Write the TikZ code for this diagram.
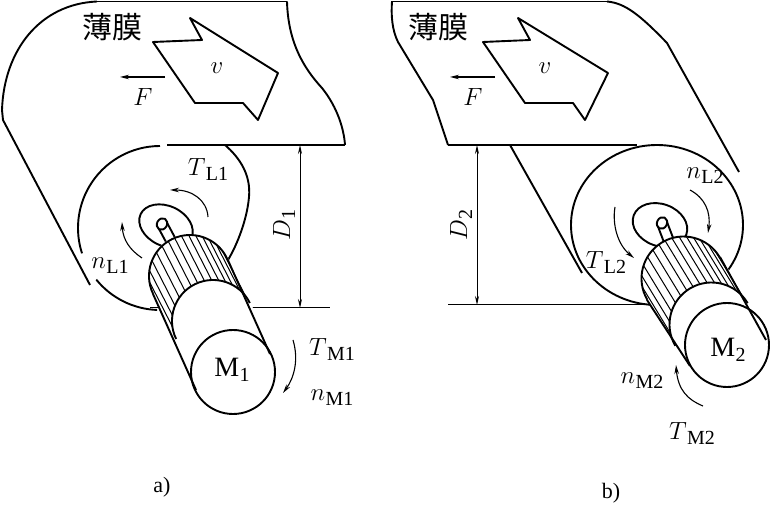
\documentclass[tikz,border=0pt]{standalone}
\usepackage{fontspec}
\setmainfont{Liberation Serif}
\newfontfamily\cjk{Noto Sans CJK SC}
\usetikzlibrary{arrows.meta,calc}
\newcommand{\lbl}[2]{$#1$\kern0.5pt\raisebox{-5pt}{\fontsize{20}{22}\selectfont #2}}
\begin{document}
\begin{tikzpicture}[x=1pt,y=-1pt,
  outl/.style={line width=1.9pt,line join=round},
  thin/.style={line width=1pt},
  rot/.style={line width=1.1pt,-{Stealth[length=9pt,width=4.5pt]}},
  dim/.style={thin,{Stealth[length=9pt,width=4pt]}-{Stealth[length=9pt,width=4pt]}},
  lab/.style={inner sep=0pt,font=\fontsize{25}{26}\selectfont},
  mlab/.style={inner sep=0pt,font=\fontsize{28}{30}\selectfont},
  cjkl/.style={inner sep=0pt,font=\cjk\fontsize{30}{32}\selectfont}]
\useasboundingbox (0,0) rectangle (772,510);
% ================= LEFT (a) =================
\draw[outl] (345,145) -- (167,145);
\draw[outl] (97,1.5) -- (287,1.5);
\draw[outl] (287,1.5) .. controls (288,35) and (298,62) .. (322,88) .. controls (338,108) and (344,130) .. (345,145);
\draw[outl] (97,1.5) .. controls (40,4) and (4,50) .. (2,110) -- (3,120) -- (90,285);
\draw[outl] (160,228) ++(-90:82) arc[start angle=-90,end angle=-198,radius=82];
\draw[outl] (160,228) ++(141:82) arc[start angle=141,end angle=92,radius=82];
\draw[outl] (225,145) .. controls (240,158) and (251,175) .. (249,197) .. controls (247,220) and (237,245) .. (228,260);
\draw[thin] (150,308) -- (330,308);
\draw[outl] (166,226) ellipse[x radius=28,y radius=20,rotate=-25];
\draw[outl] (157.6,226.4) -- (185.6,278.4);
\draw[outl] (166.4,221.6) -- (194.4,273.6);
\draw[outl,fill=white] (162,224) ellipse[x radius=6,y radius=5,rotate=60];
\fill[white] (190,276) circle[radius=42] (213,321) circle[radius=42] (233,372) circle[radius=42]
  (153,294) -- (227,258) -- (270,354) -- (196,390) -- cycle;
\draw[outl] (190,276) ++(-26:41) arc[start angle=-26,end angle=-206,radius=41];
\draw[outl] (213,321) ++(-26:41) arc[start angle=-26,end angle=-206,radius=41];
\foreach \a in {-38,-50,-62,-72,-82,-92,-102,-112,-122,-133,-145,-158,-172,-188}
  \draw[thin] ($(190,276)+(\a:41)$) -- ($(213,321)+(\a:41)$);
\draw[outl] (153,294) -- (196,390);
\draw[outl] (227,258) -- (270,354);
\draw[outl] (233,372) circle[radius=42];
\node[mlab] (m1) at (232,370) {\lbl{\mathrm{M}}{1}};
\coordinate (f1s) at (165,77);
\coordinate (f1e) at (120,77);
\draw[rot] (f1s) -- (f1e);
\node[lab] (F1) at (143,97) {$F$};
\draw[outl,fill=white] (190,18) -- (202,40) -- (153,42) -- (195,103) -- (243,103) -- (258,120) -- (278,73) -- cycle;
\node[lab] (v1) at (217,68) {$v$};
\node[cjkl] (film1) at (112,27) {薄膜};
\draw[rot] (208,217) .. controls (207,200) and (192,190) .. (170,190);
\node[lab] (TL1) at (208,170) {\lbl{T}{L1}};
\draw[rot] (142,258) .. controls (130,250) and (123,240) .. (122,222);
\node[lab] (nL1) at (110,266) {\lbl{n}{L1}};
\draw[rot] (293,340) .. controls (299,360) and (294,378) .. (283,393);
\node[lab] (TM1) at (332,350) {\lbl{T}{M1}};
\node[lab] (nM1) at (332,398) {\lbl{n}{M1}};
\draw[dim] (300,145) -- (300,308);
\node[lab,rotate=90] (D1) at (284,225) {\lbl{D}{1}};
\node[inner sep=0pt,font=\fontsize{22}{24}\selectfont] (a) at (162,487) {a)};
% ================= RIGHT (b) =================
\draw[outl] (448,145) -- (637,145);
\draw[outl] (391,1.5) -- (607,1.5);
\draw[outl] (607,1.5) .. controls (625,3) and (640,15) .. (667,43) -- (739,172);
\draw[outl] (392,1.5) .. controls (391,15) and (392,30) .. (398,42) -- (433,100) -- (448,145);
\draw[outl] (510,145) -- (582,273);
\draw[outl] (657,225) ellipse[x radius=86,y radius=80];
\draw[thin] (448,305) -- (650,305);
\draw[outl] (660,225) ellipse[x radius=28,y radius=21,rotate=-20];
\draw[outl] (657.3,224.8) -- (678.3,279.8);
\draw[outl] (666.7,221.2) -- (687.7,276.2);
\draw[outl,fill=white] (662,223) ellipse[x radius=6,y radius=5,rotate=65];
\fill[white] (683.5,278.5) circle[radius=42] (711.5,324.5) circle[radius=42] (727,345) circle[radius=42]
  (647,300) -- (720,257) -- (764,323) -- (690,366) -- cycle;
\draw[outl] (683.5,278.5) ++(-30.5:42) arc[start angle=-30.5,end angle=-210.5,radius=42];
\draw[outl] (711.5,324.5) ++(-30.5:42) arc[start angle=-30.5,end angle=-210.5,radius=42];
\foreach \a in {-42,-54,-66,-76,-86,-96,-106,-116,-126,-137,-149,-162,-176,-192}
  \draw[thin] ($(683.5,278.5)+(\a:42)$) -- ($(711.5,324.5)+(\a:42)$);
\draw[outl] (647,300) -- (690,366);
\draw[outl] (720,257) -- (766,340);
\draw[outl] (727,345) circle[radius=42];
\node[mlab] (m2) at (728,350) {\lbl{\mathrm{M}}{2}};
\coordinate (f2s) at (495,77);
\coordinate (f2e) at (450,77);
\draw[rot] (f2s) -- (f2e);
\node[lab] (F2) at (473,97) {$F$};
\draw[outl,fill=white] (518,18) -- (530,40) -- (483,42) -- (525,103) -- (573,103) -- (585,120) -- (608,73) -- cycle;
\node[lab] (v2) at (545,68) {$v$};
\node[cjkl] (film2) at (438,27) {薄膜};
\draw[rot] (690,190) .. controls (705,198) and (711,212) .. (708,233);
\node[lab] (nL2) at (705,176) {\lbl{n}{L2}};
\draw[rot] (615,207) .. controls (612,225) and (618,245) .. (634,258);
\node[lab] (TL2) at (606,263) {\lbl{T}{L2}};
\draw[rot] (703,406) .. controls (688,400) and (678,390) .. (676,365);
\node[lab] (nM2) at (642,381) {\lbl{n}{M2}};
\node[lab] (TM2) at (692,434) {\lbl{T}{M2}};
\draw[dim] (477,145) -- (477,305);
\node[lab,rotate=90] (D2) at (461,225) {\lbl{D}{2}};
\node[inner sep=0pt,font=\fontsize{22}{24}\selectfont] (b) at (611,493) {b)};
\end{tikzpicture}
\end{document}
